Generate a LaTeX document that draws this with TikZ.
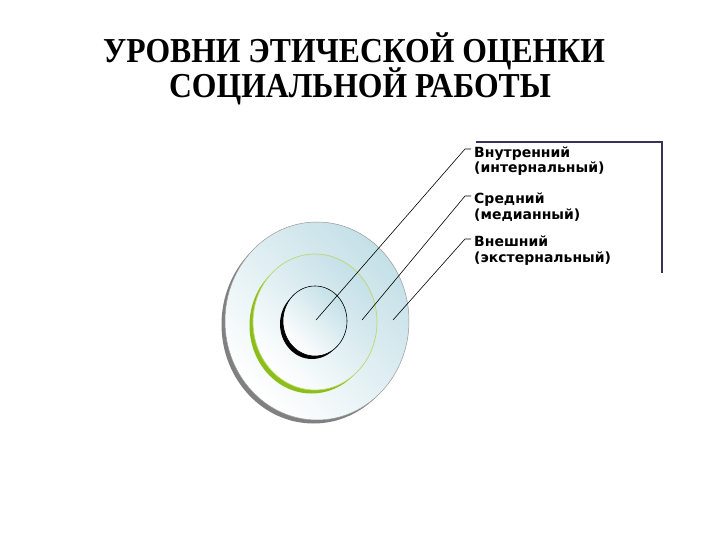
\documentclass[tikz,border=0pt]{standalone}
\usepackage{fontspec}
\setmainfont{Liberation Serif}
\newfontfamily\lblfont{DejaVu Sans}
\definecolor{navyline}{RGB}{52,52,88}
\definecolor{discblue}{RGB}{196,224,231}
\definecolor{ringgreen}{RGB}{140,190,25}
\definecolor{ringlight}{RGB}{190,215,110}
\definecolor{shadowgray}{RGB}{128,128,128}
\begin{document}
\begin{tikzpicture}[x=1pt,y=-1pt,
  disc/.style={top color=discblue, bottom color=white, shading angle=-45},
  lbl/.style={anchor=base west, inner sep=0pt, align=left, font=\lblfont\bfseries\fontsize{14}{15.5}\selectfont},
  lead/.style={black, line width=0.6pt},
  ttl/.style={anchor=base, inner sep=0pt, font=\bfseries\fontsize{35}{35}\selectfont}]
\fill[white] (0,0) rectangle (720,540);
\useasboundingbox (0,0) rectangle (720,540);
% title
\node[ttl] (title1) at (354,62.5) {\scalebox{0.905}[1]{УРОВНИ ЭТИЧЕСКОЙ ОЦЕНКИ}};
\node[ttl] (title2) at (360,97.5) {\scalebox{0.905}[1]{СОЦИАЛЬНОЙ РАБОТЫ}};
% outer disc
\fill[shadowgray] (313.5,324.5) ellipse [x radius=92, y radius=99];
\shade[disc] (317,321) ellipse [x radius=92, y radius=99];
\draw[shadowgray!80, line width=0.5pt] (317,321) ellipse [x radius=92, y radius=99];
% green ring
\fill[ringgreen] (311.5,325.5) ellipse [x radius=62, y radius=68];
\shade[disc] (315,322) ellipse [x radius=62, y radius=68];
\draw[ringlight, line width=0.7pt] (315,322) ellipse [x radius=62, y radius=68];
% black ring
\fill[black] (312,324) ellipse [x radius=32, y radius=35];
\shade[disc] (315,321) ellipse [x radius=32, y radius=35];
\draw[black, line width=0.6pt] (315,321) ellipse [x radius=32, y radius=35];
% frame
\draw[navyline, line width=2.2pt] (476,142) -- (662,142) -- (662,273);
% labels
\node[lbl] (l1) at (474,173) {Внутренний\\(интернальный)};
\node[lbl] (l2) at (474,219) {Средний\\(медианный)};
\node[lbl] (l3) at (474,262) {Внешний\\(экстернальный)};
% leader points
\coordinate (t1) at (465,149);
\coordinate (t2) at (465,196);
\coordinate (t3) at (465,239);
\coordinate (p1) at (316,320);
\coordinate (p2) at (362,320);
\coordinate (p3) at (393,320);
\draw[lead] (p1) -- (t1) -- ++(6,0);
\draw[lead] (p2) -- (t2) -- ++(6,0);
\draw[lead] (p3) -- (t3) -- ++(6,0);
\end{tikzpicture}
\end{document}
